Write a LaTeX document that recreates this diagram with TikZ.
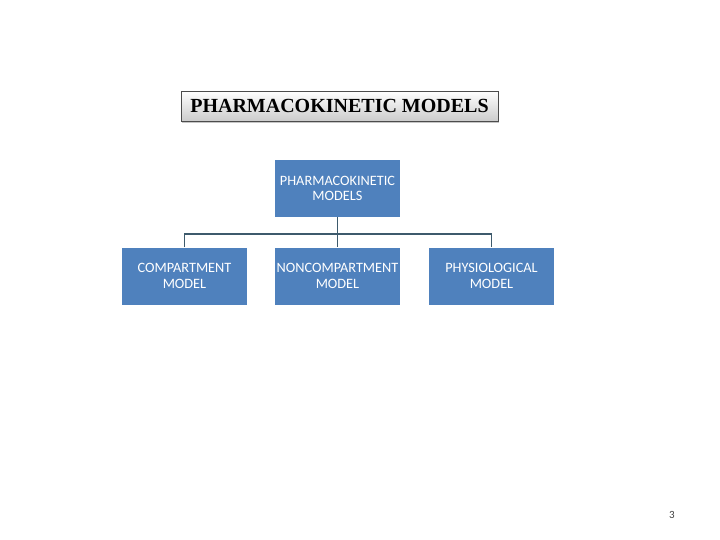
\documentclass[tikz,border=0pt]{standalone}
\usepackage{fontspec}
\setmainfont{Carlito}
\newfontfamily\titlefont{Liberation Serif}
\usetikzlibrary{shadows}
\definecolor{boxblue}{HTML}{4F81BD}
\definecolor{linecol}{HTML}{3D5A6C}
\begin{document}
\begin{tikzpicture}[x=1pt,y=-1pt,
  bluebox/.style={fill=boxblue,draw=none,minimum width=125pt,minimum height=57pt,text=white,align=center,font=\fontsize{14.3}{15.5}\selectfont,inner sep=0pt},
  conn/.style={draw=linecol,line width=1.8pt}]
\useasboundingbox (0,0) rectangle (720,540);
\node[draw=black!70,line width=0.8pt,top color=white,bottom color=black!20,minimum width=317pt,minimum height=30pt,inner sep=0pt,font=\titlefont\bfseries\fontsize{20}{22}\selectfont,drop shadow={shadow xshift=1.2pt,shadow yshift=-1.8pt,opacity=0.45}] (title) at (339.5,106) {PHARMACOKINETIC MODELS};
\node[bluebox] (top) at (337.5,188.5) {PHARMACOKINETIC\\MODELS};
\node[bluebox] (comp) at (184.5,276) {COMPARTMENT\\MODEL};
\node[bluebox] (nonc) at (337.5,276) {NONCOMPARTMENT\\MODEL};
\node[bluebox] (phys) at (491.5,276) {PHYSIOLOGICAL\\MODEL};
\coordinate (hub) at (337.5,234);
\draw[conn] (top.south) -- (hub);
\draw[conn] (comp.north) -- (comp.north |- hub) -- (phys.north |- hub) -- (phys.north);
\draw[conn] (hub) -- (nonc.north);
\node[font=\fontsize{11}{13}\selectfont,text=black!75] (pg) at (672,515) {3};
\end{tikzpicture}
\end{document}
